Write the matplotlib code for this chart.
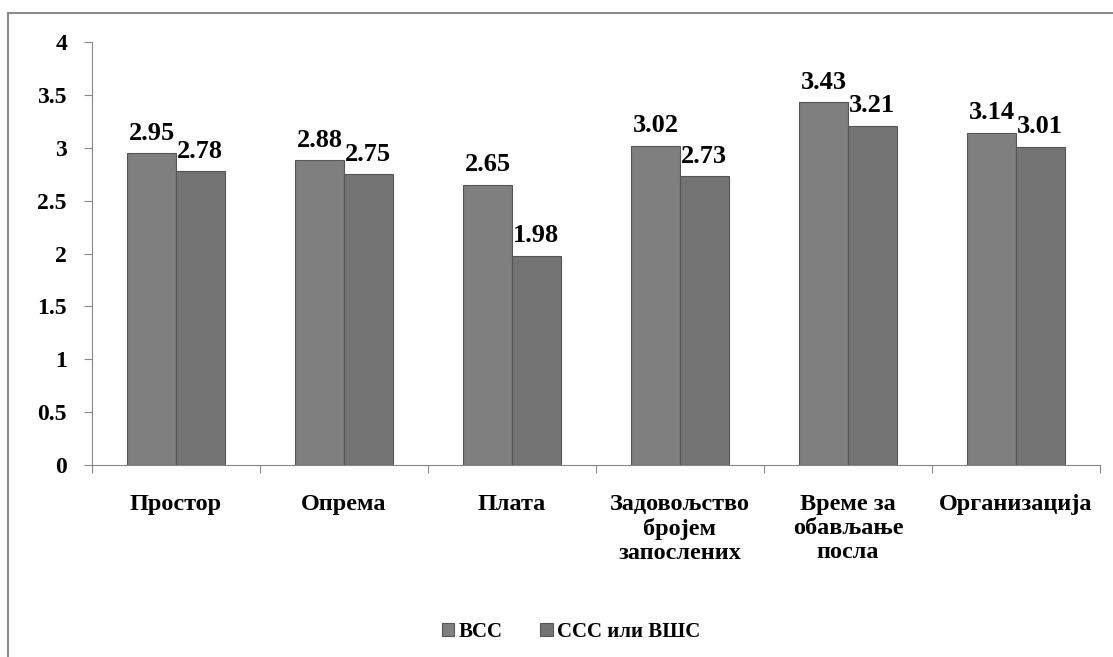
import matplotlib.pyplot as plt
import matplotlib.patches as mpatches
import numpy as np

plt.rcParams['font.family'] = 'serif'
plt.rcParams['font.serif'] = ['Liberation Serif', 'DejaVu Serif']
plt.rcParams['font.weight'] = 'bold'

categories = ["Простор", "Опрема", "Плата", "Задовољство\nбројем\nзапослених",
              "Време за\nобављање\nпосла", "Организација"]
vss = [2.95, 2.88, 2.65, 3.02, 3.43, 3.14]
sss_vss = [2.78, 2.75, 1.98, 2.73, 3.21, 3.01]
series_names = ["ВСС", "ССС или ВШС"]
yticks = [0, 0.5, 1, 1.5, 2, 2.5, 3, 3.5, 4]

W, H = 1113, 657
fig = plt.figure(figsize=(W / 100, H / 100), dpi=100)

# outer chart border
fig.patches.append(mpatches.Rectangle((8 / W, -0.05), 1.1, (H - 13) / H + 0.05,
                                      transform=fig.transFigure, fill=False,
                                      edgecolor='#8c8c8c', linewidth=1.5))

ax = fig.add_axes([92 / W, 192 / H, (1100 - 92) / W, (465 - 42) / H])

x = np.arange(len(categories))
bw = 0.289
b1 = ax.bar(x - bw / 2, vss, bw, color='#7f7f7f', edgecolor='#555555', linewidth=0.8, label=series_names[0])
b2 = ax.bar(x + bw / 2, sss_vss, bw, color='#737373', edgecolor='#555555', linewidth=0.8, label=series_names[1])

for bars, vals in ((b1, vss), (b2, sss_vss)):
    for rect, v in zip(bars, vals):
        ax.text(rect.get_x() + rect.get_width() / 2, v + 0.08, f"{v:.2f}",
                ha='center', va='bottom', fontsize=19, fontweight='bold')

ax.set_xlim(-0.5, len(categories) - 0.5)
ax.set_ylim(0, 4)
ax.set_yticks(yticks)
ax.set_yticklabels([f"{t:g}" for t in yticks], fontsize=17, fontweight='bold')
ax.tick_params(axis='y', direction='out', length=6, color='#868686', pad=12)

# category ticks sit between groups, labels centered under groups
ax.set_xticks(np.arange(len(categories) + 1) - 0.5)
ax.set_xticklabels([])
ax.tick_params(axis='x', direction='out', length=6, color='#868686')
for i, c in enumerate(categories):
    ax.text(i, -0.27, c, ha='center', va='top', fontsize=17.5, fontweight='bold',
            linespacing=1.2, transform=ax.transData)

for s in ('top', 'right'):
    ax.spines[s].set_visible(False)
for s in ('left', 'bottom'):
    ax.spines[s].set_color('#868686')

fig.legend(handles=[b1, b2], loc='center', bbox_to_anchor=(571 / W, 25 / H), ncol=2,
           frameon=False, prop={'size': 15, 'weight': 'bold'}, handlelength=0.6,
           handleheight=0.6, handletextpad=0.2, columnspacing=1.8)

fig.savefig("out.png", dpi=100)
